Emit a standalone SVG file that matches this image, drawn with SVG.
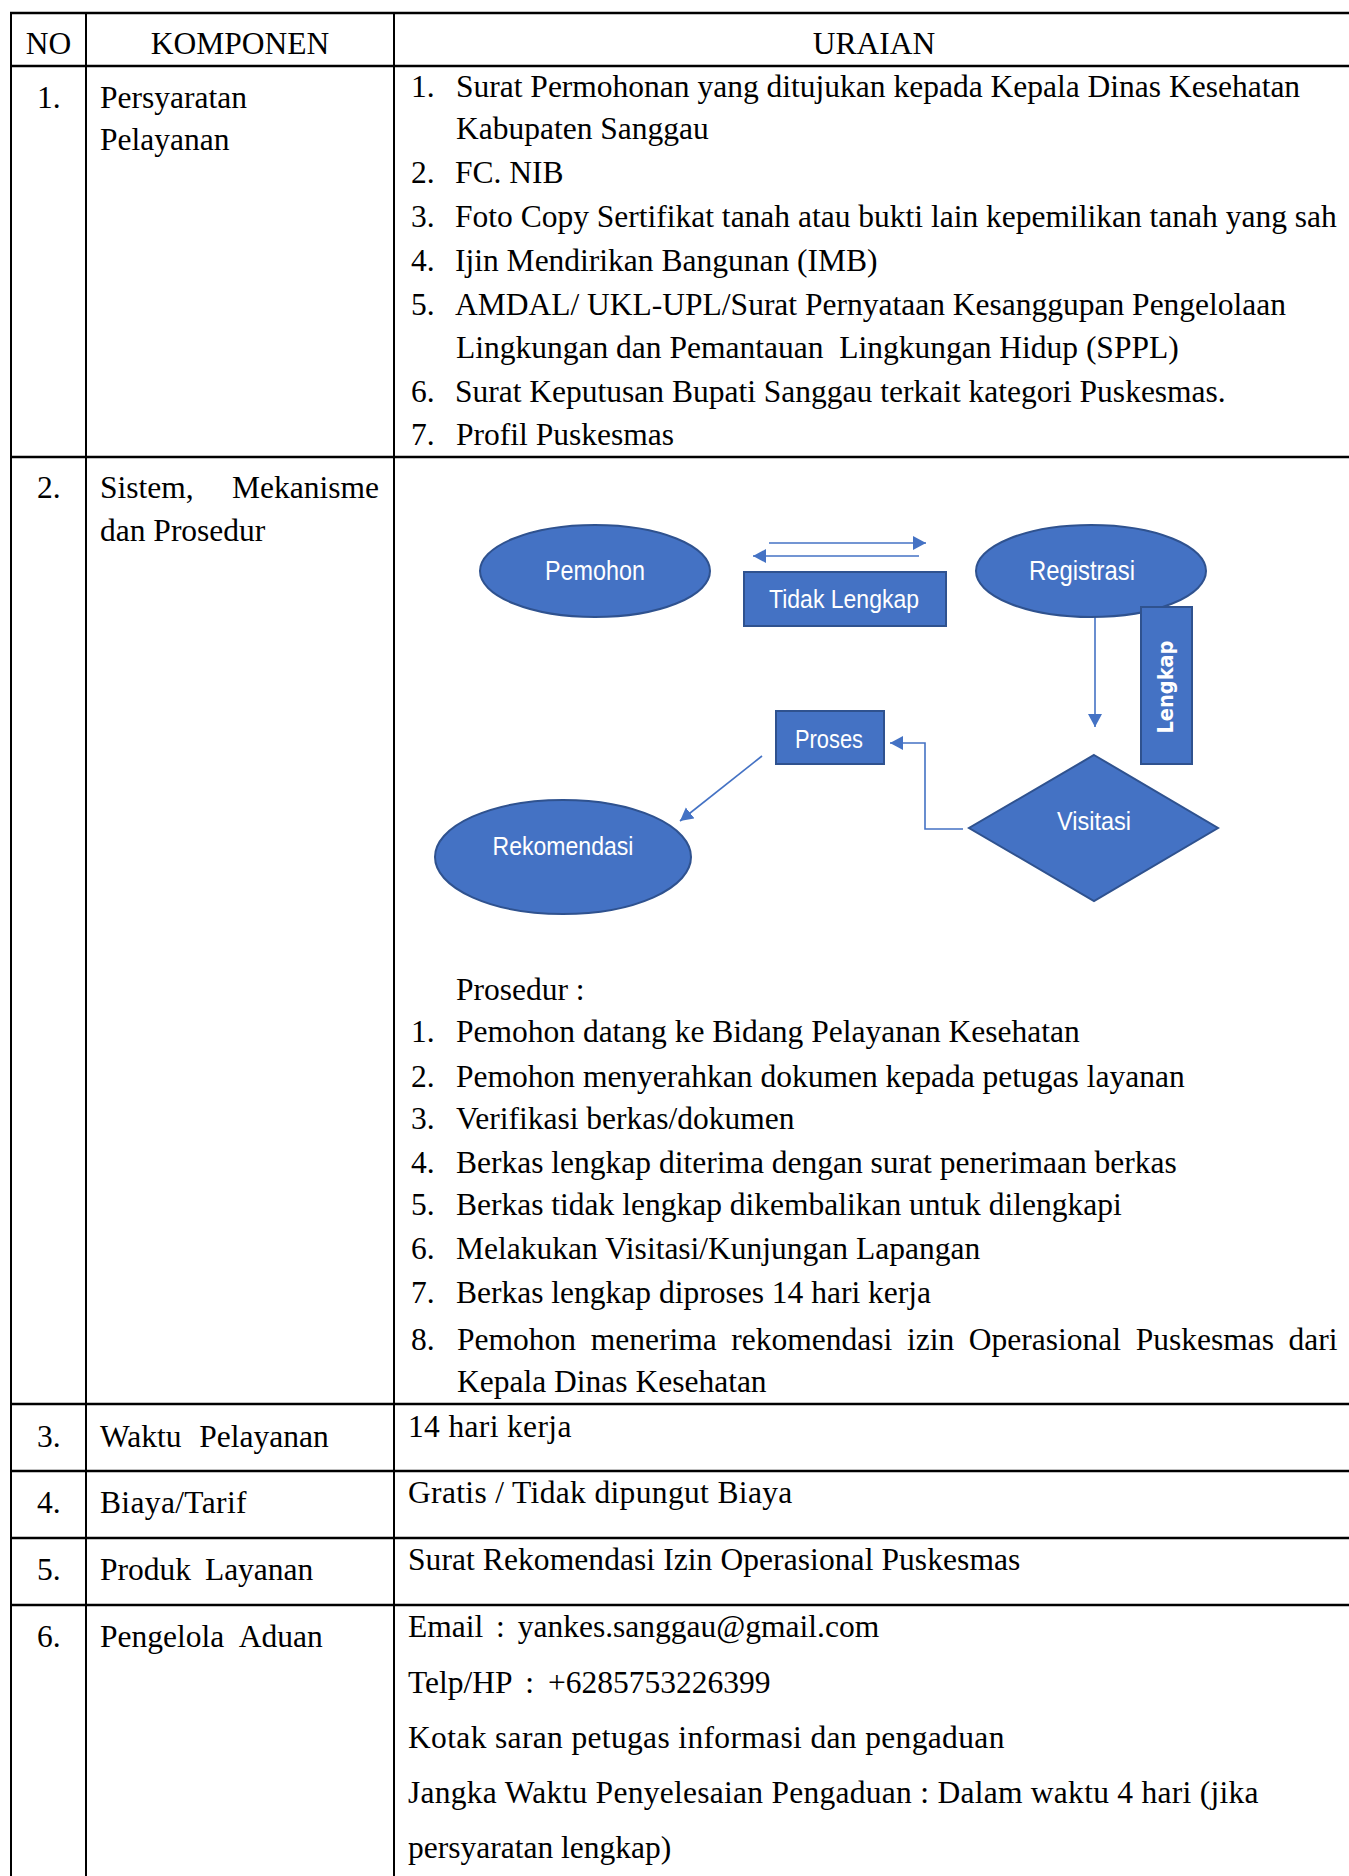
<svg xmlns="http://www.w3.org/2000/svg" width="1349" height="1876" viewBox="0 0 1349 1876">
<style>
.t{font-family:"Liberation Serif","Times New Roman",serif;font-size:31.5px;fill:#000}
.c{text-anchor:middle}
.h{stroke:#000;stroke-width:2.5}
.v{stroke:#000;stroke-width:2}
.shape{fill:#4472C4;stroke:#2F528F;stroke-width:2}
.lbl{font-family:"Liberation Sans",Arial,sans-serif;font-size:26px;fill:#fff;text-anchor:middle}
.big{font-size:28px}
.conn{stroke:#4472C4;stroke-width:1.6;fill:none}
.ls{letter-spacing:0.35px}
</style>
<defs>
<marker id="ah" markerUnits="userSpaceOnUse" markerWidth="14" markerHeight="15" refX="13" refY="7" orient="auto">
<path d="M0,0 L13,7 L0,14 z" fill="#4472C4"/>
</marker>
</defs>
<rect width="1349" height="1876" fill="#fff"/>
<g id="table-lines">
<line class="h" x1="10" y1="13" x2="1349" y2="13"/>
<line class="h" x1="10" y1="66" x2="1349" y2="66"/>
<line class="h" x1="10" y1="457" x2="1349" y2="457"/>
<line class="h" x1="10" y1="1404" x2="1349" y2="1404"/>
<line class="h" x1="10" y1="1471" x2="1349" y2="1471"/>
<line class="h" x1="10" y1="1538" x2="1349" y2="1538"/>
<line class="h" x1="10" y1="1605" x2="1349" y2="1605"/>
<line class="v" x1="11" y1="12" x2="11" y2="1876"/>
<line class="v" x1="86" y1="12" x2="86" y2="1876"/>
<line class="v" x1="394" y1="12" x2="394" y2="1876"/>
</g>
<g id="header">
<text class="t c" x="48.5" y="54">NO</text>
<text class="t c" x="240" y="54">KOMPONEN</text>
<text class="t c" x="874" y="54">URAIAN</text>
</g>
<g id="row1">
<text class="t" x="37" y="108">1.</text>
<text class="t" x="100" y="108">Persyaratan</text>
<text class="t" x="100" y="150">Pelayanan</text>
<text class="t" x="411" y="97">1.</text>
<text class="t" x="456" y="97">Surat Permohonan yang ditujukan kepada Kepala Dinas Kesehatan</text>
<text class="t" x="456" y="139">Kabupaten Sanggau</text>
<text class="t" x="411" y="183">2.</text>
<text class="t" x="455" y="183">FC. NIB</text>
<text class="t" x="411" y="227">3.</text>
<text class="t" x="455" y="227">Foto Copy Sertifikat tanah atau bukti lain kepemilikan tanah yang sah</text>
<text class="t" x="411" y="271">4.</text>
<text class="t" x="455" y="271">Ijin Mendirikan Bangunan (IMB)</text>
<text class="t" x="411" y="315">5.</text>
<text class="t" x="455" y="315">AMDAL/ UKL-UPL/Surat Pernyataan Kesanggupan Pengelolaan</text>
<text class="t" x="456" y="358" style="white-space:pre">Lingkungan dan Pemantauan  Lingkungan Hidup (SPPL)</text>
<text class="t" x="411" y="402">6.</text>
<text class="t" x="455" y="402">Surat Keputusan Bupati Sanggau terkait kategori Puskesmas.</text>
<text class="t" x="411" y="445">7.</text>
<text class="t" x="456" y="445">Profil Puskesmas</text>
</g>
<g id="row2">
<text class="t" x="37" y="498">2.</text>
<text class="t" x="100" y="498">Sistem,</text>
<text class="t" x="232" y="498">Mekanisme</text>
<text class="t" x="100" y="541">dan Prosedur</text>
</g>
<g id="connectors">
<line class="conn" x1="769" y1="543" x2="926" y2="543" marker-end="url(#ah)"/>
<line class="conn" x1="919" y1="556" x2="753" y2="556" marker-end="url(#ah)"/>
<line class="conn" x1="1095" y1="617" x2="1095" y2="727" marker-end="url(#ah)"/>
<path class="conn" d="M963,829 H925 V743 H890" marker-end="url(#ah)"/>
<line class="conn" x1="762" y1="756" x2="680" y2="821" marker-end="url(#ah)"/>
</g>
<g id="node-pemohon">
<ellipse class="shape" cx="595" cy="571" rx="115" ry="46"/>
<text class="lbl big" x="595" y="580" textLength="100" lengthAdjust="spacingAndGlyphs">Pemohon</text>
</g>
<g id="node-tidak-lengkap">
<rect class="shape" x="744" y="572" width="202" height="54"/>
<text class="lbl" x="844" y="608" textLength="150" lengthAdjust="spacingAndGlyphs">Tidak Lengkap</text>
</g>
<g id="node-registrasi">
<ellipse class="shape" cx="1091" cy="571" rx="115" ry="46"/>
<text class="lbl big" x="1082" y="580" textLength="106" lengthAdjust="spacingAndGlyphs">Registrasi</text>
</g>
<g id="node-lengkap">
<rect class="shape" x="1141" y="607" width="51" height="157"/>
<text x="0" y="0" transform="translate(1173,687) rotate(-90)" textLength="93" lengthAdjust="spacingAndGlyphs" style="font-family:'DejaVu Sans',Verdana,sans-serif;font-size:21px;font-weight:bold;fill:#fff;text-anchor:middle">Lengkap</text>
</g>
<g id="node-visitasi">
<polygon class="shape" points="1094,755 1218,828 1094,901 969,828"/>
<text class="lbl" x="1094" y="830" textLength="74" lengthAdjust="spacingAndGlyphs">Visitasi</text>
</g>
<g id="node-proses">
<rect class="shape" x="776" y="711" width="108" height="53"/>
<text class="lbl" x="829" y="748" textLength="68" lengthAdjust="spacingAndGlyphs">Proses</text>
</g>
<g id="node-rekomendasi">
<ellipse class="shape" cx="563" cy="857" rx="128" ry="57"/>
<text class="lbl" x="563" y="855" textLength="141" lengthAdjust="spacingAndGlyphs">Rekomendasi</text>
</g>
<g id="prosedur">
<text class="t" x="456" y="1000">Prosedur :</text>
<text class="t" x="411" y="1042">1.</text>
<text class="t" x="456" y="1042">Pemohon datang ke Bidang Pelayanan Kesehatan</text>
<text class="t" x="411" y="1087">2.</text>
<text class="t" x="456" y="1087">Pemohon menyerahkan dokumen kepada petugas layanan</text>
<text class="t" x="411" y="1129">3.</text>
<text class="t" x="456" y="1129">Verifikasi berkas/dokumen</text>
<text class="t" x="411" y="1173">4.</text>
<text class="t" x="456" y="1173">Berkas lengkap diterima dengan surat penerimaan berkas</text>
<text class="t" x="411" y="1215">5.</text>
<text class="t" x="456" y="1215">Berkas tidak lengkap dikembalikan untuk dilengkapi</text>
<text class="t" x="411" y="1259">6.</text>
<text class="t" x="456" y="1259">Melakukan Visitasi/Kunjungan Lapangan</text>
<text class="t" x="411" y="1303">7.</text>
<text class="t" x="456" y="1303">Berkas lengkap diproses 14 hari kerja</text>
<text class="t" x="411" y="1350">8.</text>
<text class="t" x="457" y="1350" word-spacing="6.8">Pemohon menerima rekomendasi izin Operasional Puskesmas dari</text>
<text class="t" x="457" y="1392">Kepala Dinas Kesehatan</text>
</g>
<g id="row3">
<text class="t" x="37" y="1447">3.</text>
<text class="t" x="100" y="1447" word-spacing="10">Waktu Pelayanan</text>
<text class="t ls" x="408" y="1437">14 hari kerja</text>
</g>
<g id="row4">
<text class="t" x="37" y="1513">4.</text>
<text class="t ls" x="100" y="1513">Biaya/Tarif</text>
<text class="t ls" x="408" y="1503">Gratis / Tidak dipungut Biaya</text>
</g>
<g id="row5">
<text class="t" x="37" y="1580">5.</text>
<text class="t" x="100" y="1580" word-spacing="6">Produk Layanan</text>
<text class="t" x="408" y="1570" letter-spacing="0.08">Surat Rekomendasi Izin Operasional Puskesmas</text>
</g>
<g id="row6">
<text class="t" x="37" y="1647">6.</text>
<text class="t" x="100" y="1647" word-spacing="8.5">Pengelola Aduan</text>
<text class="t" x="408" y="1637" word-spacing="5">Email : yankes.sanggau@gmail.com</text>
<text class="t" x="408" y="1693" word-spacing="6">Telp/HP : +6285753226399</text>
<text class="t ls" x="408" y="1748">Kotak saran petugas informasi dan pengaduan</text>
<text class="t" x="408" y="1803" letter-spacing="0.27">Jangka Waktu Penyelesaian Pengaduan : Dalam waktu 4 hari (jika</text>
<text class="t" x="408" y="1858">persyaratan lengkap)</text>
</g>
</svg>
